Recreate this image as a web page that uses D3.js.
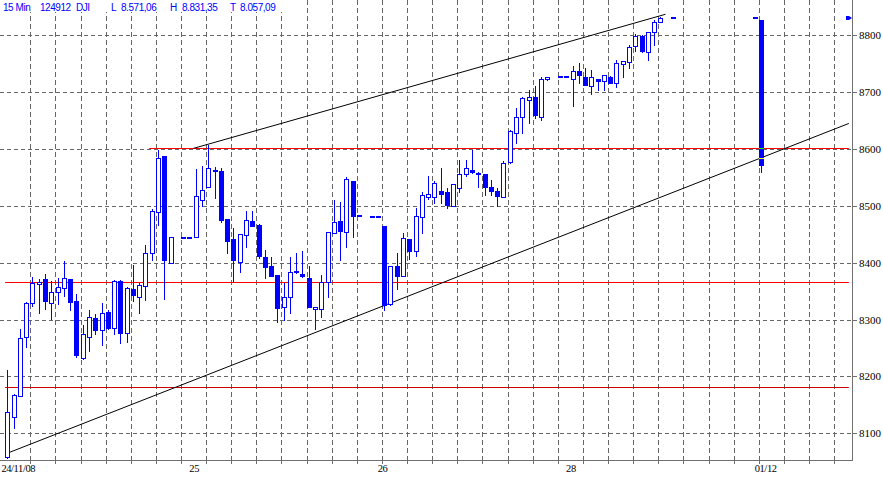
<!DOCTYPE html>
<html><head><meta charset="utf-8">
<script src="https://cdn.jsdelivr.net/npm/d3@7"></script>
<style>html,body{margin:0;padding:0;background:#fff;overflow:hidden}</style>
</head><body><svg id="c" width="883" height="478"></svg>
<script>
// ---- DATA ----
const headerTexts = ["15 Min","124912","DJI","L","8.571,06","H","8.831,35","T","8.057,09"];
const yTicks = [8100,8200,8300,8400,8500,8600,8700,8800];
const dayLabels = ["24/11/08","25","26","28","01/12"];
const dayStartBar = [0,28,58,88,119];

const barIndex = [0,1,2,3,4,5,6,7,8,9,10,11,12,13,14,15,16,17,18,19,20,21,22,23,24,25,26,
  28,29,
  30,31,32,33,34,35,36,37,38,39,40,41,42,43,44,45,46,47,48,49,50,51,52,53,54,55,56,
  58,59,
  60,61,62,63,64,65,66,67,68,69,70,71,72,73,74,75,76,77,78,79,80,81,82,83,84,85,86,
  88,89,
  90,91,92,93,94,95,96,97,98,99,100,101,102,103,104,
  106,119,120];
const open = [8059,8128,8165,8269,8329,8362,8371,8330,8348,8355,8371,8332,8233,8269,8302,8281,8313,8285,8368,8276,8354,8340,8359,8418,8489,8587,8399,
  8444,8444,
  8445,8510,8534,8564,8561,8477,8442,8402,8448,8474,8466,8410,8394,8378,8322,8340,8386,8381,8374,8318,8318,8366,8452,8473,8454,8544,8482,
  8481,8481,
  8465,8328,8395,8376,8441,8420,8481,8516,8515,8526,8525,8500,8531,8556,8564,8557,8556,8533,8526,8516,8577,8629,8656,8687,8691,8657,8723,
  8727,8727,
  8724,8737,8727,8710,8724,8720,8727,8716,8749,8753,8782,8799,8770,8805,8823,
  8831,8831,8827];
const high = [8212,8170,8283,8331,8375,8371,8380,8368,8374,8403,8371,8345,8290,8317,8310,8329,8317,8369,8369,8358,8396,8364,8431,8494,8598,8588,8445,
  8444,8444,
  8565,8570,8607,8569,8566,8477,8461,8450,8491,8491,8469,8423,8410,8378,8364,8410,8417,8421,8395,8322,8378,8454,8510,8506,8551,8544,8482,
  8481,8481,
  8465,8395,8417,8452,8441,8496,8525,8553,8543,8566,8531,8539,8581,8581,8598,8560,8556,8546,8531,8579,8633,8672,8692,8703,8711,8727,8727,
  8727,8727,
  8746,8752,8743,8739,8724,8730,8728,8757,8755,8783,8802,8801,8805,8827,8831.35,
  8831,8831,8827];
const low = [8057.09,8110,8165,8252,8324,8311,8318,8301,8327,8342,8317,8235,8230,8244,8275,8255,8284,8275,8259,8261,8333,8311,8334,8405,8466,8336,8399,
  8444,8444,
  8445,8499,8534,8513,8472,8417,8367,8384,8427,8464,8408,8374,8377,8295,8300,8312,8382,8375,8322,8283,8305,8340,8452,8405,8428,8446,8482,
  8481,8481,
  8317,8325,8353,8376,8406,8411,8452,8512,8505,8505,8496,8500,8525,8553,8557,8534,8519,8519,8499,8516,8575,8611,8628,8646,8654,8651,8722,
  8727,8727,
  8675,8717,8713,8697,8704,8704,8717,8709,8727,8743,8773,8771,8757,8783,8823,
  8831,8831,8560];
const close = [8137,8167,8267,8330,8364,8367,8333,8348,8357,8374,8331,8237,8275,8304,8281,8311,8285,8368,8276,8355,8344,8361,8418,8491,8584,8404,8445,
  8444,8444,
  8517,8528,8566,8561,8475,8439,8404,8450,8475,8465,8411,8393,8377,8320,8340,8384,8383,8376,8322,8322,8367,8454,8472,8455,8547,8482,8482,
  8481,8481,
  8326,8395,8377,8443,8421,8483,8519,8521,8540,8521,8502,8539,8556,8566,8559,8556,8534,8527,8518,8576,8632,8656,8689,8692,8659,8724,8727,
  8727,8727,
  8738,8730,8713,8726,8720,8730,8717,8751,8755,8779,8799,8772,8805,8823,8831,
  8831,8831,8571.06];

// support / resistance levels
const levelPrices = [8601.5, 8365.5, 8181];
const levelStartBar = [22.6, -0.35, -0.35];
const levelEndBar = 134;
// trend lines: [startBar, startPrice, endBar, endPrice]
const trendLines = [[29.6, 8601, 104.8, 8837], [0, 8065, 134, 8645]];
const lastPrice = 8830;
const tickMarks = [8602, 8585]; // bid/ask marks on last bar

// ---- DRAW ----
const svg = d3.select("#c");
const W = 852, B = 460;
const x = d3.scaleLinear().domain([-1.162, 134.5]).range([0, W]);
const y = d3.scaleLinear().domain([8053.1, 8862.1]).range([B, 0]);
const BLUE = "#0000ff", GRID = "#666666", AXIS = "#707070";
const yr = v => Math.round(y(v));

// horizontal gridlines
svg.append("g").selectAll("line").data(yTicks).join("line")
  .attr("x1", 0).attr("x2", W).attr("y1", d => yr(d) + 0.5).attr("y2", d => yr(d) + 0.5)
  .attr("stroke", GRID).attr("stroke-dasharray", "4,3");

// vertical gridlines (every hour = 4 bars)
const vIdx = d3.range(3.66, 134.5, 4);
svg.append("g").selectAll("line").data(vIdx).join("line")
  .attr("x1", d => Math.round(x(d)) + 0.5).attr("x2", d => Math.round(x(d)) + 0.5)
  .attr("y1", 0).attr("y2", B)
  .attr("stroke", GRID).attr("stroke-dasharray", "5,3");

// levels
const levelColors = ["#ff0000", "#ff0000", "#cc0000"];
svg.append("g").selectAll("line").data(levelPrices).join("line")
  .attr("x1", (d, i) => x(levelStartBar[i])).attr("x2", x(levelEndBar))
  .attr("y1", d => yr(d) + 0.5).attr("y2", d => yr(d) + 0.5)
  .attr("stroke", (d, i) => levelColors[i]).attr("stroke-width", 1);

// trend lines
svg.append("g").selectAll("line").data(trendLines).join("line")
  .attr("x1", d => x(d[0])).attr("y1", d => y(d[1]))
  .attr("x2", d => x(d[2])).attr("y2", d => y(d[3]))
  .attr("stroke", "#000").attr("stroke-width", 1);

// candles
const bars = barIndex.map((b, i) => ({b, o: open[i], h: high[i], l: low[i], c: close[i]}));
const g = svg.append("g");
bars.forEach(d => {
  const cx = Math.round(x(d.b));
  if (d.h !== d.l) {
    g.append("line").attr("x1", cx + 0.5).attr("x2", cx + 0.5)
      .attr("y1", yr(d.h)).attr("y2", yr(d.l) + 1)
      .attr("stroke", BLUE).attr("stroke-width", 1);
  }
  const yo = yr(d.o), yc = yr(d.c);
  if (d.o === d.c) {
    g.append("rect").attr("x", cx - 2).attr("y", yo - 1).attr("width", 5).attr("height", 2).attr("fill", BLUE);
  } else if (d.c < d.o) {
    g.append("rect").attr("x", cx - 2).attr("y", yo).attr("width", 5)
      .attr("height", Math.max(2, yc - yo + 1)).attr("fill", BLUE);
  } else {
    g.append("rect").attr("x", cx - 1.5).attr("y", yc + 0.5).attr("width", 4)
      .attr("height", Math.max(1, yo - yc)).attr("fill", "#fff").attr("stroke", BLUE).attr("stroke-width", 1);
  }
});

// small bid/ask marks on the last bar
const lastBar = bars[bars.length - 1];
const markColors = ["#00ff00", "#ffff00"];
svg.append("g").selectAll("line").data(tickMarks).join("line")
  .attr("x1", Math.round(x(lastBar.b)) - 2).attr("x2", Math.round(x(lastBar.b)) + 3)
  .attr("y1", d => yr(d) + 0.5).attr("y2", d => yr(d) + 0.5)
  .attr("stroke", (d, i) => markColors[i]);

// last price marker at right edge
const my = yr(lastPrice);
svg.append("path")
  .attr("d", `M${W - 6},${my - 2} L${W - 3},${my - 2} L${W},${my} L${W - 3},${my + 2} L${W - 6},${my + 2} Z`)
  .attr("fill", BLUE);

// axes frame
svg.append("line").attr("x1", W + 0.5).attr("x2", W + 0.5).attr("y1", 0).attr("y2", B + 1).attr("stroke", AXIS);
svg.append("line").attr("x1", 0).attr("x2", W + 1).attr("y1", B + 0.5).attr("y2", B + 0.5).attr("stroke", AXIS);

// right axis ticks + labels
svg.append("g").selectAll("line").data(yTicks).join("line")
  .attr("x1", W).attr("x2", W + 5).attr("y1", d => yr(d) + 0.5).attr("y2", d => yr(d) + 0.5).attr("stroke", AXIS);
svg.append("g").selectAll("text").data(yTicks).join("text")
  .attr("x", W + 7).attr("y", d => yr(d) + 4)
  .attr("font-family", "Liberation Serif, serif").attr("font-size", 11).attr("fill", "#000")
  .text(d => d);

// bottom ticks
svg.append("g").selectAll("line").data(vIdx).join("line")
  .attr("x1", d => Math.round(x(d)) + 0.5).attr("x2", d => Math.round(x(d)) + 0.5)
  .attr("y1", B).attr("y2", B + 4).attr("stroke", AXIS);

// day labels
svg.append("g").selectAll("text").data(dayLabels).join("text")
  .attr("x", (d, i) => Math.max(18, x(dayStartBar[i] + 1.75)))
  .attr("y", 472)
  .attr("text-anchor", "middle")
  .attr("font-family", "Liberation Serif, serif").attr("font-size", 10.5).attr("fill", "#000")
  .attr("letter-spacing", -0.4)
  .text(d => d);

// header
svg.append("rect").attr("x", 0).attr("y", 0).attr("width", 284).attr("height", 12).attr("fill", "#fff");
const headerX = [3, 40, 76, 111, 121, 170, 182, 230, 240];
svg.append("g").selectAll("text").data(headerTexts).join("text")
  .attr("x", (d, i) => headerX[i]).attr("y", 10.5)
  .attr("font-family", "Liberation Sans, Arial, sans-serif").attr("font-size", 10).attr("fill", BLUE)
  .attr("letter-spacing", -0.45)
  .text(d => d);
</script>
</body></html>
